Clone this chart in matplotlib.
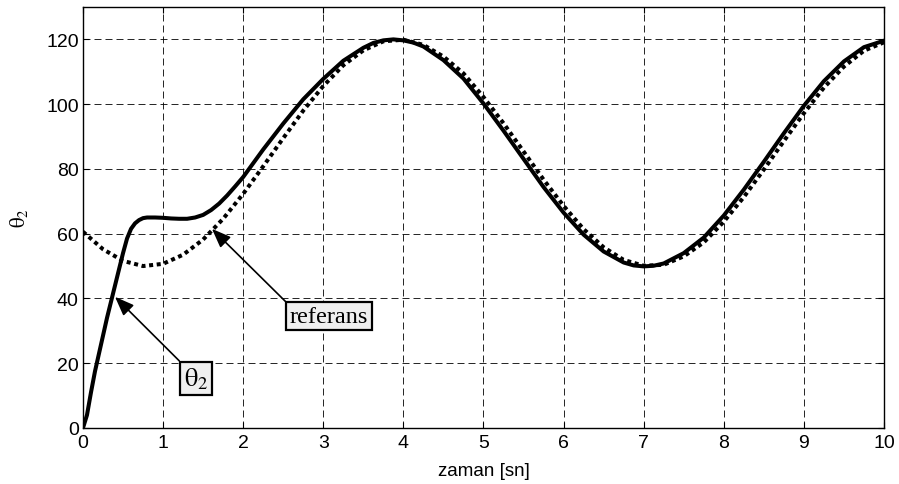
import numpy as np
import matplotlib
matplotlib.use("Agg")
import matplotlib.pyplot as plt

plt.rcParams['font.family'] = ['Liberation Sans', 'DejaVu Sans']
plt.rcParams['mathtext.fontset'] = 'stix'

# referans aci (derece), 0.25 sn araliklarla
t_ref = np.arange(0, 10.01, 0.25)
theta_ref = [60.6, 55.2, 51.6, 50.0, 50.7, 53.5, 58.2, 64.6, 72.3, 80.8,
             89.5, 98.0, 105.6, 112.0, 116.6, 119.4, 119.9, 118.3, 114.7, 109.5,
             102.2, 94.1, 85.4, 76.7, 68.6, 61.4, 55.8, 51.9, 50.1, 50.4,
             53.0, 57.3, 63.7, 71.3, 79.8, 88.6, 97.2, 105.1, 111.6, 116.5,
             119.1]

# sistemin cikisi theta2
t_out = [0, 0.05, 0.1, 0.15, 0.2, 0.25, 0.3, 0.35, 0.4, 0.45,
         0.5, 0.55, 0.6, 0.65, 0.7, 0.75, 0.8, 0.9, 1.0, 1.1,
         1.2, 1.3, 1.4, 1.5, 1.6, 1.7, 1.8, 1.9, 2.0, 2.25,
         2.5, 2.75, 3.0, 3.25, 3.5, 3.625, 3.75, 3.875, 4.0, 4.125,
         4.25, 4.5, 4.75,
         5.0, 5.25, 5.5, 5.75, 6.0, 6.25, 6.5, 6.75, 6.875, 7.0, 7.125, 7.25,
         7.5, 7.75, 8.0, 8.25, 8.5, 8.75, 9.0, 9.25, 9.5, 9.75, 10.0]
theta_out = [0, 4, 11, 17.5, 23, 28.5, 34, 39, 44, 49,
             54, 58.5, 61.5, 63.2, 64.2, 64.8, 65, 65, 64.9, 64.7,
             64.6, 64.6, 65, 65.8, 67.3, 69.3, 71.8, 74.6, 77.5, 86,
             94, 101.5, 107.8, 113.4, 117.4, 118.9, 119.7, 120.0, 119.7, 119.0,
             117.8, 113.6, 107.9,
             100.2, 91.8, 83.1, 74.4, 66.5, 59.7, 54.5, 51.1, 50.2, 49.9, 50.1, 50.8,
             54.0, 58.8, 65.6, 73.6, 82.2, 91.0, 99.5, 107.1, 113.2, 117.6, 119.6]

fig = plt.figure(figsize=(8.99, 4.85), dpi=100)
ax = fig.add_axes([0.0923, 0.1155, 0.8910, 0.8680])

ax.plot(t_ref, theta_ref, color='k', linewidth=2.9, linestyle=(0, (1, 0.9)))
ax.plot(t_out, theta_out, color='k', linewidth=2.9, solid_capstyle='round',
        solid_joinstyle='round')

ax.set_xlim(0, 10)
ax.set_ylim(0, 130)
ax.set_xticks(range(0, 11))
ax.set_yticks(range(0, 121, 20))
ax.grid(True, color='k', linewidth=0.6, linestyle=(0, (8.4, 4.8)))
ax.tick_params(direction='in', length=4, top=True, right=True, labelsize=14)
ax.tick_params(axis='x', pad=4)
ax.tick_params(axis='y', pad=3)
for s in ax.spines.values():
    s.set_linewidth(1.0)

ax.set_xlabel('zaman [sn]', fontsize=13.5, labelpad=8)
ax.set_ylabel(r'$\mathrm{\theta_2}$', fontsize=15, labelpad=12)

box = dict(boxstyle='square,pad=0.15', facecolor='#efefef', edgecolor='k', linewidth=1.6)
arrow = dict(arrowstyle='-|>,head_length=0.9,head_width=0.35', color='k',
             linewidth=1.2, mutation_scale=13, shrinkA=0, shrinkB=0, relpos=(0, 1))

ax.annotate(r'$\mathrm{\theta_2}$', xy=(0.40, 40.5), xytext=(1.26, 19.3),
            fontsize=19, ha='left', va='top', bbox=box, arrowprops=arrow)
ax.annotate('referans', xy=(1.61, 61.5), xytext=(2.58, 37.8),
            fontsize=17.5, family=['Liberation Serif', 'DejaVu Serif'],
            ha='left', va='top', bbox=box, arrowprops=arrow)

fig.savefig('out.png', dpi=100)
